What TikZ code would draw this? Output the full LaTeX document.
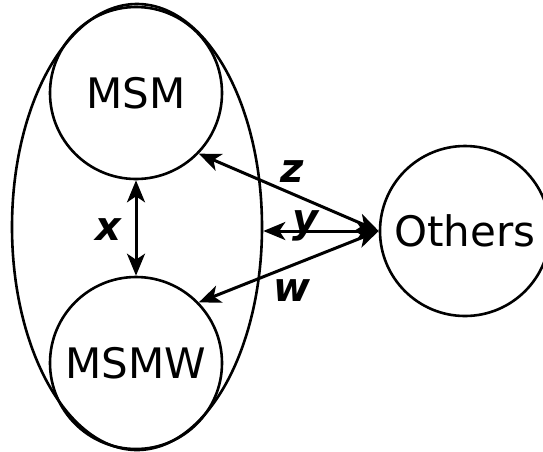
\documentclass[tikz,border=0pt]{standalone}
\usepackage{fontspec}
\setmainfont{DejaVu Sans}
\usetikzlibrary{shapes.geometric,arrows.meta}
\begin{document}
\begin{tikzpicture}[x=1pt,y=-1pt,
  >={Stealth[length=22pt,width=18pt,inset=6pt]},
  ring/.style={draw,line width=2.6pt,circle,inner sep=0pt,minimum size=172pt,font=\fontsize{42}{50}\selectfont},
  link/.style={line width=3pt,<->},
  lbl/.style={font=\fontsize{40}{48}\selectfont\bfseries\itshape,inner sep=0pt}]
\useasboundingbox (0,0) rectangle (543,451);
\node[draw,line width=2.6pt,ellipse,inner sep=0pt,minimum width=250pt,minimum height=446pt] (grp) at (137,227) {};
\node[ring] (msm) at (136,93) {MSM};
\node[ring] (msmw) at (136,363) {MSMW};
\node[ring,minimum size=170pt] (oth) at (465,231) {Others};
\draw[link] (msm.south) -- (msmw.north);
\draw[link] (oth.west) -- (msm.-44);
\draw[link] (oth.west) -- (msmw.44);
\draw[link] (oth.west) -- (grp.east |- oth.west);
\node[lbl] (lx) at (108,230) {x};
\node[lbl] (lz) at (292,172) {z};
\node[lbl] (ly) at (306,226) {y};
\node[lbl] (lw) at (292,291) {w};
\end{tikzpicture}
\end{document}
